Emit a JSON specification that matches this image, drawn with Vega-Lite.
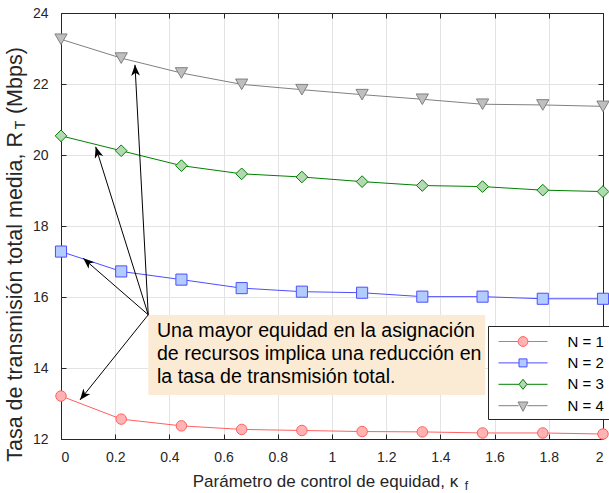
{
  "$schema": "https://vega.github.io/schema/vega-lite/v6.json",
  "autosize": "none",
  "width": 542,
  "height": 426,
  "padding": {"left": 61, "top": 13, "right": 6, "bottom": 54},
  "background": "white",
  "datasets": {
    "series": [
      {"k": 0, "R": 13.21, "N": "N = 1"}, {"k": 0.2222, "R": 12.56, "N": "N = 1"}, {"k": 0.4444, "R": 12.37, "N": "N = 1"}, {"k": 0.6667, "R": 12.27, "N": "N = 1"}, {"k": 0.8889, "R": 12.24, "N": "N = 1"}, {"k": 1.1111, "R": 12.21, "N": "N = 1"}, {"k": 1.3333, "R": 12.2, "N": "N = 1"}, {"k": 1.5556, "R": 12.17, "N": "N = 1"}, {"k": 1.7778, "R": 12.17, "N": "N = 1"}, {"k": 2, "R": 12.14, "N": "N = 1"},
      {"k": 0, "R": 17.28, "N": "N = 2"}, {"k": 0.2222, "R": 16.72, "N": "N = 2"}, {"k": 0.4444, "R": 16.49, "N": "N = 2"}, {"k": 0.6667, "R": 16.25, "N": "N = 2"}, {"k": 0.8889, "R": 16.15, "N": "N = 2"}, {"k": 1.1111, "R": 16.12, "N": "N = 2"}, {"k": 1.3333, "R": 16.01, "N": "N = 2"}, {"k": 1.5556, "R": 16.01, "N": "N = 2"}, {"k": 1.7778, "R": 15.95, "N": "N = 2"}, {"k": 2, "R": 15.95, "N": "N = 2"},
      {"k": 0, "R": 20.54, "N": "N = 3"}, {"k": 0.2222, "R": 20.12, "N": "N = 3"}, {"k": 0.4444, "R": 19.7, "N": "N = 3"}, {"k": 0.6667, "R": 19.47, "N": "N = 3"}, {"k": 0.8889, "R": 19.38, "N": "N = 3"}, {"k": 1.1111, "R": 19.25, "N": "N = 3"}, {"k": 1.3333, "R": 19.14, "N": "N = 3"}, {"k": 1.5556, "R": 19.11, "N": "N = 3"}, {"k": 1.7778, "R": 19.01, "N": "N = 3"}, {"k": 2, "R": 18.97, "N": "N = 3"},
      {"k": 0, "R": 23.26, "N": "N = 4"}, {"k": 0.2222, "R": 22.73, "N": "N = 4"}, {"k": 0.4444, "R": 22.31, "N": "N = 4"}, {"k": 0.6667, "R": 21.99, "N": "N = 4"}, {"k": 0.8889, "R": 21.84, "N": "N = 4"}, {"k": 1.1111, "R": 21.7, "N": "N = 4"}, {"k": 1.3333, "R": 21.57, "N": "N = 4"}, {"k": 1.5556, "R": 21.43, "N": "N = 4"}, {"k": 1.7778, "R": 21.41, "N": "N = 4"}, {"k": 2, "R": 21.37, "N": "N = 4"}
    ],
    "arrows": [
      {"xs": 0.322, "ys": 15.5, "xh": 0.07, "yh": 13.1},
      {"xs": 0.322, "ys": 15.5, "xh": 0.082, "yh": 17.09},
      {"xs": 0.322, "ys": 15.5, "xh": 0.128, "yh": 20.23},
      {"xs": 0.322, "ys": 15.5, "xh": 0.273, "yh": 22.54}
    ],
    "box": [
      {"x1": 0.322, "x2": 1.565, "y1": 15.49, "y2": 13.24, "tx": 0.354, "ty": 14.87,
       "label": ["Una mayor equidad en la asignación", "de recursos implica una reducción en", "la tasa de transmisión total."]}
    ]
  },
  "encoding": {},
  "layer": [
    {
      "data": {"name": "box"},
      "mark": {"type": "rect", "fill": "#FBEBD5", "stroke": null},
      "encoding": {
        "x": {"field": "x1", "type": "quantitative", "scale": {"domain": [0, 2], "nice": false, "zero": false}, "axis": null},
        "x2": {"field": "x2"},
        "y": {"field": "y1", "type": "quantitative", "scale": {"domain": [12, 24], "nice": false, "zero": false}, "axis": null},
        "y2": {"field": "y2"}
      }
    },
    {
      "data": {"name": "series"},
      "mark": {"type": "line", "strokeWidth": 1},
      "encoding": {
        "x": {"field": "k", "type": "quantitative",
              "axis": {"orient": "bottom", "values": [0, 0.2, 0.4, 0.6, 0.8, 1, 1.2, 1.4, 1.6, 1.8, 2], "format": "~g", "grid": true,
                       "title": "Parámetro de control de equidad, κ", "titleX": 264, "titleY": 47, "titleBaseline": "alphabetic", "labelPadding": 16}},
        "y": {"field": "R", "type": "quantitative",
              "axis": {"orient": "left", "values": [12, 14, 16, 18, 20, 22, 24], "grid": true,
                       "title": "Tasa de transmisión total media, R\u00a0\u00a0\u00a0(Mbps)", "titleFontSize": 21.5, "titleX": -40, "titleY": 241, "titleBaseline": "alphabetic", "titleAlign": "center", "labelPadding": 18}},
        "color": {"field": "N", "type": "nominal", "scale": {"domain": ["N = 4", "N = 3", "N = 2", "N = 1"], "range": ["#808080", "#008000", "#4D4DFF", "#FF6060"]}, "legend": null}
      }
    },
    {
      "data": {"name": "series"},
      "mark": {"type": "point", "filled": false, "strokeWidth": 1, "opacity": 1},
      "encoding": {
        "x": {"field": "k", "type": "quantitative",
              "axis": {"orient": "top", "values": [0, 0.2, 0.4, 0.6, 0.8, 1, 1.2, 1.4, 1.6, 1.8, 2], "labels": false, "grid": false, "title": null}},
        "y": {"field": "R", "type": "quantitative",
              "axis": {"orient": "right", "values": [12, 14, 16, 18, 20, 22, 24], "labels": false, "grid": false, "title": null}},
        "stroke": {"field": "N", "type": "nominal", "scale": {"domain": ["N = 4", "N = 3", "N = 2", "N = 1"], "range": ["#808080", "#008000", "#4D4DFF", "#FF6060"]}, "legend": null},
        "fill": {"field": "N", "type": "nominal", "scale": {"domain": ["N = 4", "N = 3", "N = 2", "N = 1"], "range": ["#BFBFBF", "#B3D9B3", "#B3CCFF", "#FFB3B3"]}, "legend": null},
        "size": {"field": "N", "type": "nominal", "scale": {"domain": ["N = 4", "N = 3", "N = 2", "N = 1"], "range": [150, 110, 64, 80]}, "legend": null},
        "shape": {"field": "N", "type": "nominal", "scale": {"domain": ["N = 4", "N = 3", "N = 2", "N = 1"], "range": ["triangle-down", "diamond", "square", "circle"]}, "legend": null}
      }
    },
    {
      "data": {"name": "series"},
      "mark": {"type": "point", "filled": false, "strokeWidth": 1, "opacity": 0, "size": 4},
      "encoding": {
        "x": {"field": "k", "type": "quantitative", "axis": null},
        "y": {"field": "R", "type": "quantitative", "axis": null},
        "stroke": {"field": "N", "type": "nominal", "scale": {"domain": ["N = 1", "N = 2", "N = 3", "N = 4"], "range": ["#FF6060", "#4D4DFF", "#008000", "#808080"]}},
        "fill": {"field": "N", "type": "nominal", "scale": {"domain": ["N = 1", "N = 2", "N = 3", "N = 4"], "range": ["#FFB3B3", "#B3CCFF", "#B3D9B3", "#BFBFBF"]}},
        "shape": {"field": "N", "type": "nominal",
                  "scale": {"domain": ["N = 1", "N = 2", "N = 3", "N = 4"],
                            "range": ["M-2.45,0L-0.49,0M0.49,0L2.45,0M-0.49,0A0.49,0.49 0 1,0 0.49,0A0.49,0.49 0 1,0 -0.49,0Z",
                                      "M-2.45,0L-0.4,0M0.4,0L2.45,0M-0.4,-0.4L0.4,-0.4L0.4,0.4L-0.4,0.4Z",
                                      "M-2.45,0L-0.4,0M0.4,0L2.45,0M-0.4,0L0,-0.5L0.4,0L0,0.5Z",
                                      "M-2.45,0L-0.44,0M0.44,0L2.45,0M-0.5,-0.37L0.5,-0.37L0,0.56Z"]},
                  "legend": {
                    "orient": "none", "legendX": 427, "legendY": 313, "title": null,
                    "fillColor": "white", "strokeColor": "#262626", "padding": 5,
                    "labelFontSize": 15, "labelFont": "Liberation Sans", "labelColor": "black", "labelOffset": 34,
                    "symbolSize": 400, "symbolOffset": 19.5, "symbolStrokeWidth": 1, "symbolOpacity": 1, "rowPadding": 2.4
                  }}
      }
    },
    {
      "data": {"name": "arrows"},
      "mark": {"type": "rule", "color": "black", "strokeWidth": 1},
      "encoding": {
        "x": {"field": "xs", "type": "quantitative", "axis": null},
        "y": {"field": "ys", "type": "quantitative", "axis": null},
        "x2": {"field": "xh"},
        "y2": {"field": "yh"}
      }
    },
    {
      "data": {"name": "arrows"},
      "transform": [{"calculate": "atan2((datum.xh - datum.xs) * 271, (datum.yh - datum.ys) * 35.5) * 180 / PI", "as": "ang"}],
      "mark": {"type": "point", "shape": "M0,0L0.4,1L0,0.72L-0.4,1Z", "filled": true, "color": "black", "size": 484, "opacity": 1, "strokeWidth": 0},
      "encoding": {
        "x": {"field": "xh", "type": "quantitative", "axis": null},
        "y": {"field": "yh", "type": "quantitative", "axis": null},
        "angle": {"field": "ang", "type": "quantitative", "scale": null}
      }
    },
    {
      "data": {"name": "box"},
      "mark": {"type": "text", "align": "left", "baseline": "alphabetic", "font": "Liberation Sans", "fontSize": 19.6, "lineHeight": 22.8, "color": "black"},
      "encoding": {
        "x": {"field": "tx", "type": "quantitative", "axis": null},
        "y": {"field": "ty", "type": "quantitative", "axis": null},
        "text": {"field": "label"}
      }
    },
    {
      "data": {"values": [{"s": "f"}]},
      "mark": {"type": "text", "align": "left", "baseline": "alphabetic", "font": "Liberation Sans", "fontSize": 12, "color": "#262626"},
      "encoding": {
        "x": {"datum": 1.49, "type": "quantitative", "axis": null},
        "y": {"datum": 10.56, "type": "quantitative", "axis": null},
        "text": {"field": "s"}
      }
    },
    {
      "data": {"values": [{"s": "T"}]},
      "mark": {"type": "text", "align": "center", "baseline": "alphabetic", "angle": 270, "font": "Liberation Sans", "fontSize": 14, "color": "#262626"},
      "encoding": {
        "x": {"datum": -0.133, "type": "quantitative", "axis": null},
        "y": {"datum": 20.845, "type": "quantitative", "axis": null},
        "text": {"field": "s"}
      }
    }
  ],
  "resolve": {
    "axis": {"x": "independent", "y": "independent"},
    "scale": {"shape": "independent", "stroke": "independent", "fill": "independent"}
  },
  "config": {
    "view": {"stroke": null},
    "font": "Liberation Sans",
    "axis": {
      "domainColor": "#262626", "tickColor": "#262626", "tickSize": -5,
      "labelColor": "#262626", "labelFont": "Liberation Sans", "labelFontSize": 14,
      "titleFont": "Liberation Sans", "titleFontSize": 17, "titleFontWeight": "normal", "titleColor": "#262626",
      "gridColor": "#E3E3E3", "domainWidth": 1
    }
  }
}
